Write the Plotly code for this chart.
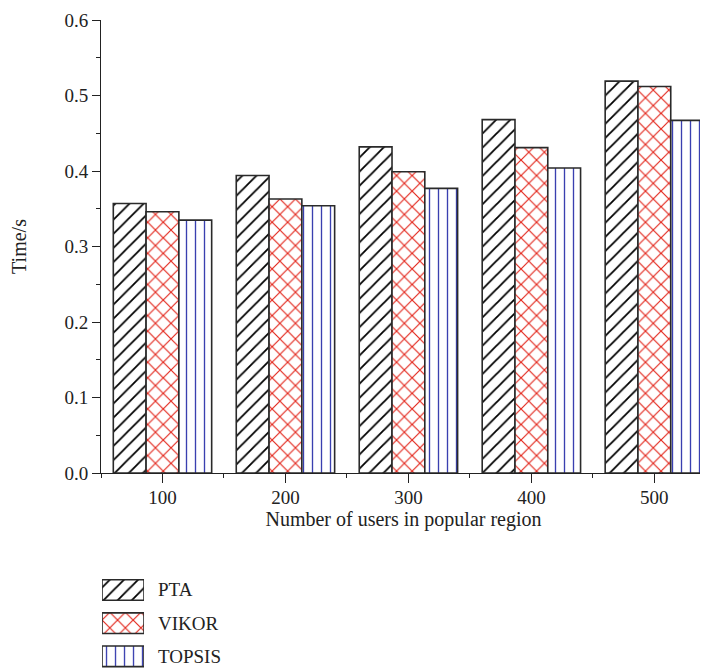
import plotly.graph_objects as go

users = [100, 200, 300, 400, 500]
pta = [0.357, 0.394, 0.432, 0.468, 0.519]
vikor = [0.346, 0.363, 0.399, 0.431, 0.512]
topsis = [0.335, 0.354, 0.377, 0.404, 0.467]
methods = ["PTA", "VIKOR", "TOPSIS"]

FONT = "Liberation Serif"
FS_TICK = 19
FS_TITLE = 20
EDGE = "#2a2a2a"

patterns = {
    "PTA": dict(shape="/", fgcolor="#000000", bgcolor="white", size=10, solidity=0.18, fgopacity=1),
    "VIKOR": dict(shape="x", fgcolor="#e3261b", bgcolor="white", size=11, solidity=0.2, fgopacity=1),
    "TOPSIS": dict(shape="|", fgcolor="#3a40b0", bgcolor="white", size=9, solidity=0.15, fgopacity=1),
}
series = {"PTA": pta, "VIKOR": vikor, "TOPSIS": topsis}

fig = go.Figure()
for m in methods:
    fig.add_trace(go.Bar(
        x=users, y=series[m], name=m, showlegend=False,
        marker=dict(color="white", line=dict(color=EDGE, width=1.6), pattern=patterns[m]),
        xaxis="x", yaxis="y",
    ))

# legend swatches drawn as bars on a small helper axis
for m in methods:
    fig.add_trace(go.Bar(
        x=[1], y=[m], orientation="h", width=0.62, showlegend=False, hoverinfo="skip",
        marker=dict(color="white", line=dict(color=EDGE, width=1.6), pattern=patterns[m]),
        xaxis="x2", yaxis="y2",
    ))

annotations = [
    dict(x=0.091, y=m, xref="paper", yref="y2", text=m, showarrow=False,
         xanchor="left", yanchor="middle", font=dict(family=FONT, size=FS_TICK, color="#222222"))
    for m in methods
]

fig.update_layout(
    width=708, height=669,
    margin=dict(l=93, r=10, t=12, b=0, autoexpand=False),
    paper_bgcolor="white", plot_bgcolor="white",
    barmode="group", bargap=0.2, bargroupgap=0,
    font=dict(family=FONT, size=FS_TICK, color="#222222"),
    showlegend=False,
    annotations=annotations,
    xaxis=dict(
        domain=[0, 1], anchor="y",
        range=[50, 542], tickmode="array", tickvals=users, ticktext=[str(u) for u in users],
        ticks="outside", ticklen=9, tickwidth=1, tickcolor="#222222",
        showline=True, linecolor="#222222", linewidth=1,
        showgrid=False, zeroline=False,
        minor=dict(tickmode="array", tickvals=[50, 150, 250, 350, 450], ticks="outside",
                   ticklen=4, tickcolor="#222222", showgrid=False),
        title=dict(text="Number of users in popular region", font=dict(family=FONT, size=FS_TITLE), standoff=4),
        tickfont=dict(family=FONT, size=FS_TICK),
        ticklabelstandoff=-2,
        ticklabeloverflow="allow",
    ),
    yaxis=dict(
        domain=[0.3105, 1], anchor="x",
        range=[0, 0.6], tickmode="linear", tick0=0, dtick=0.1, tickformat=".1f",
        ticks="outside", ticklen=8, tickwidth=1, tickcolor="#222222",
        showline=True, linecolor="#222222", linewidth=1,
        showgrid=False, zeroline=False,
        minor=dict(tickmode="linear", tick0=0.05, dtick=0.1, ticks="outside",
                   ticklen=4, tickcolor="#222222", showgrid=False),
        title=dict(text="Time/s", font=dict(family=FONT, size=FS_TITLE), standoff=32),
        tickfont=dict(family=FONT, size=FS_TICK),
        ticklabeloverflow="allow",
    ),
    xaxis2=dict(domain=[0.0017, 0.0711], anchor="y2", range=[0, 1], visible=False, fixedrange=True),
    yaxis2=dict(domain=[0.0062, 0.1577], anchor="x2", range=[2.5, -0.5], visible=False,
                fixedrange=True, type="category", categoryorder="array", categoryarray=methods),
)

fig.write_html("out.html")
